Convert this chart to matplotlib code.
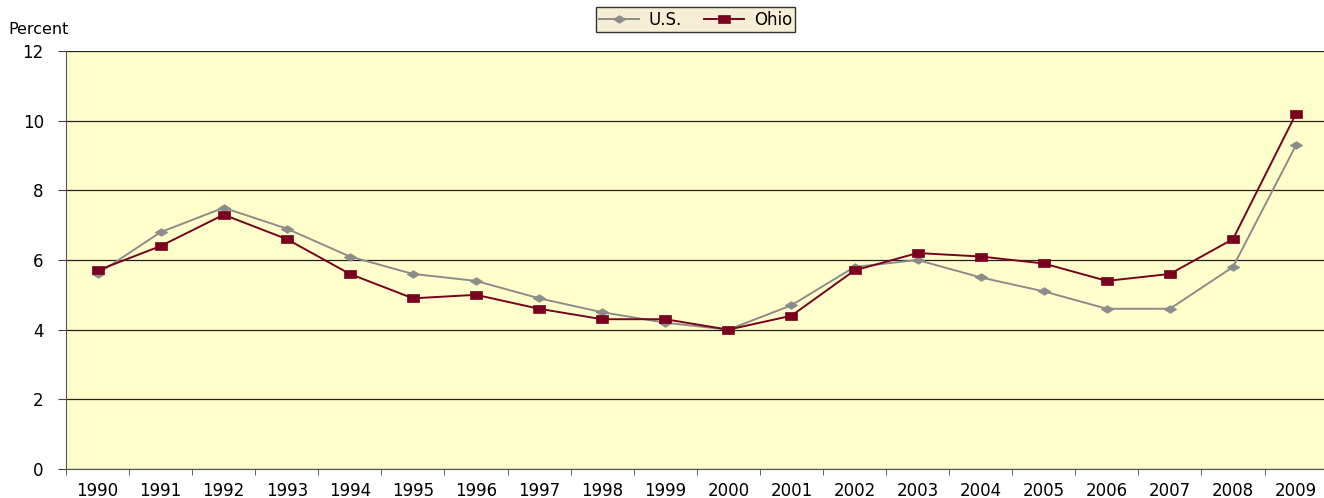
import matplotlib
matplotlib.use("Agg")
import matplotlib.pyplot as plt
import numpy as np

years = [str(y) for y in range(1990, 2010)]
us_rate = [5.6, 6.8, 7.5, 6.9, 6.1, 5.6, 5.4, 4.9, 4.5, 4.2,
           4.0, 4.7, 5.8, 6.0, 5.5, 5.1, 4.6, 4.6, 5.8, 9.3]
ohio_rate = [5.7, 6.4, 7.3, 6.6, 5.6, 4.9, 5.0, 4.6, 4.3, 4.3,
             4.0, 4.4, 5.7, 6.2, 6.1, 5.9, 5.4, 5.6, 6.6, 10.2]
y_ticks = [0, 2, 4, 6, 8, 10, 12]

# the source picture is stretched sideways, so use a wide font and flat markers
plt.rcParams["font.family"] = ["DejaVu Sans"]
flat_square = [(-1, -0.64), (1, -0.64), (1, 0.64), (-1, 0.64), (-1, -0.64)]
flat_diamond = [(-1, 0), (0, -0.62), (1, 0), (0, 0.62), (-1, 0)]

fig = plt.figure(figsize=(13.24, 4.98), dpi=100)
ax = fig.add_axes([66 / 1324, 29 / 498, 1261.6 / 1324, 418 / 498])
ax.set_facecolor("#FFFFCC")

x = np.arange(len(years))
ax.plot(x, us_rate, color="#8C8C8C", lw=1.4, marker=flat_diamond, ms=9,
        mfc="#8C8C8C", mec="#8C8C8C", mew=0.5, label="U.S.", zorder=3)
ax.plot(x, ohio_rate, color="#7A0020", lw=1.4, marker=flat_square, ms=9,
        mfc="#7A0020", mec="#7A0020", mew=0.5, label="Ohio", zorder=4)

ax.set_xlim(-0.5, len(years) - 0.5)
ax.set_ylim(0, 12)
ax.set_yticks(y_ticks)
ax.set_yticklabels([str(v) for v in y_ticks], fontsize=12)
ax.yaxis.grid(True, color="#222222", lw=0.9)
ax.set_axisbelow(True)

ax.set_xticks(x)
ax.set_xticklabels(years, fontsize=12)
ax.set_xticks(np.arange(-0.5, len(years)), minor=True)
ax.tick_params(axis="x", which="major", length=0, pad=9)
ax.tick_params(axis="x", which="minor", length=4, color="#444444")
ax.tick_params(axis="y", length=6, color="#444444", pad=10)

for side in ("top", "right"):
    ax.spines[side].set_visible(False)
ax.spines["left"].set_color("#555555")
ax.spines["bottom"].set_color("#555555")

fig.text(8 / 1324, 1 - 30 / 498, "Percent", fontsize=11.5, va="center", ha="left")

leg = fig.legend(loc="upper center", bbox_to_anchor=(0.5253, 0.995), ncol=2,
                 frameon=True, fancybox=False, fontsize=12,
                 handlelength=2.4, columnspacing=1.3, handletextpad=0.6,
                 borderpad=0.2, borderaxespad=0.3)
leg.get_frame().set_facecolor("#F5ECCB")
leg.get_frame().set_edgecolor("black")
leg.get_frame().set_linewidth(1.0)

fig.savefig("out.png", dpi=100)
